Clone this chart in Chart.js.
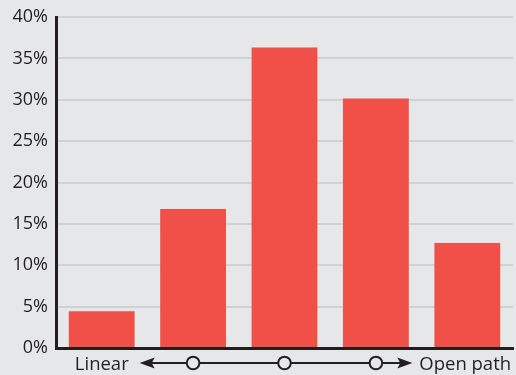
<!DOCTYPE html>
<html>
<head>
<meta charset="utf-8">
<script src="https://cdn.jsdelivr.net/npm/chart.js@4"></script>
<style>
  html, body { margin: 0; padding: 0; background: #e6e7e8; }
  #wrap { width: 516px; height: 375px; position: relative; }
</style>
</head>
<body>
<div id="wrap"><canvas id="barChart"></canvas></div>
<script>
const categories = ["1", "2", "3", "4", "5"];
const shares = [4.45, 16.8, 36.3, 30.15, 12.7];
const tickStep = 5;
const yMax = 40;
const leftLabel = "Linear";
const rightLabel = "Open path";

const ink = "#231f20";
const barColor = "#f05047";
const bg = "#e6e7e8";

// arrow row under the axis: Linear <-o---o---o-> Open path
const pathAxis = {
    id: "pathAxis",
    afterDraw(chart) {
        const ctx = chart.ctx;
        const x = chart.scales.x;
        const y = chart.scales.y.bottom + 15;
        const centers = categories.map((c, i) => x.getPixelForValue(i));
        const start = centers[0] + 38;
        const end = centers[4] - 55;

        ctx.save();
        ctx.strokeStyle = ink;
        ctx.fillStyle = ink;
        ctx.lineWidth = 2;
        ctx.beginPath();
        ctx.moveTo(start + 10, y);
        ctx.lineTo(end - 10, y);
        ctx.stroke();

        // arrow heads
        ctx.beginPath();
        ctx.moveTo(start, y);
        ctx.lineTo(start + 15, y - 5.5);
        ctx.lineTo(start + 12, y);
        ctx.lineTo(start + 15, y + 5.5);
        ctx.closePath();
        ctx.fill();
        ctx.beginPath();
        ctx.moveTo(end, y);
        ctx.lineTo(end - 15, y - 5.5);
        ctx.lineTo(end - 12, y);
        ctx.lineTo(end - 15, y + 5.5);
        ctx.closePath();
        ctx.fill();

        // circles on the middle bars
        [1, 2, 3].forEach(i => {
            ctx.beginPath();
            ctx.arc(centers[i], y, 6.3, 0, Math.PI * 2);
            ctx.fillStyle = bg;
            ctx.fill();
            ctx.stroke();
        });

        ctx.fillStyle = ink;
        ctx.font = "18.5px 'Open Sans'";
        ctx.textBaseline = "alphabetic";
        ctx.textAlign = "right";
        ctx.fillText(leftLabel, start - 11, y + 7);
        ctx.textAlign = "left";
        ctx.fillText(rightLabel, end + 7, y + 7);
        ctx.restore();
    }
};

new Chart(document.getElementById("barChart").getContext("2d"), {
    type: "bar",
    data: {
        labels: categories,
        datasets: [{
            data: shares,
            backgroundColor: barColor,
            borderWidth: 0,
            categoryPercentage: 1,
            barPercentage: 0.72
        }]
    },
    options: {
        responsive: true,
        maintainAspectRatio: false,
        animation: false,
        layout: { padding: { top: 0, right: 3, bottom: 27, left: 0 } },
        plugins: {
            legend: { display: false },
            tooltip: { enabled: false }
        },
        scales: {
            x: {
                grid: { display: false, drawTicks: false },
                border: { display: true, color: ink, width: 3 },
                ticks: { display: false }
            },
            y: {
                min: 0,
                max: yMax,
                afterFit(scale) { scale.width = 56; },
                grid: { color: "#d0d1d3", lineWidth: 2, drawTicks: false },
                border: { display: true, color: ink, width: 3 },
                ticks: {
                    stepSize: tickStep,
                    padding: 8,
                    color: ink,
                    font: { family: "'Open Sans'", size: 18, lineHeight: 1 },
                    callback: v => v + "%"
                }
            }
        }
    },
    plugins: [pathAxis]
});
</script>
</body>
</html>
